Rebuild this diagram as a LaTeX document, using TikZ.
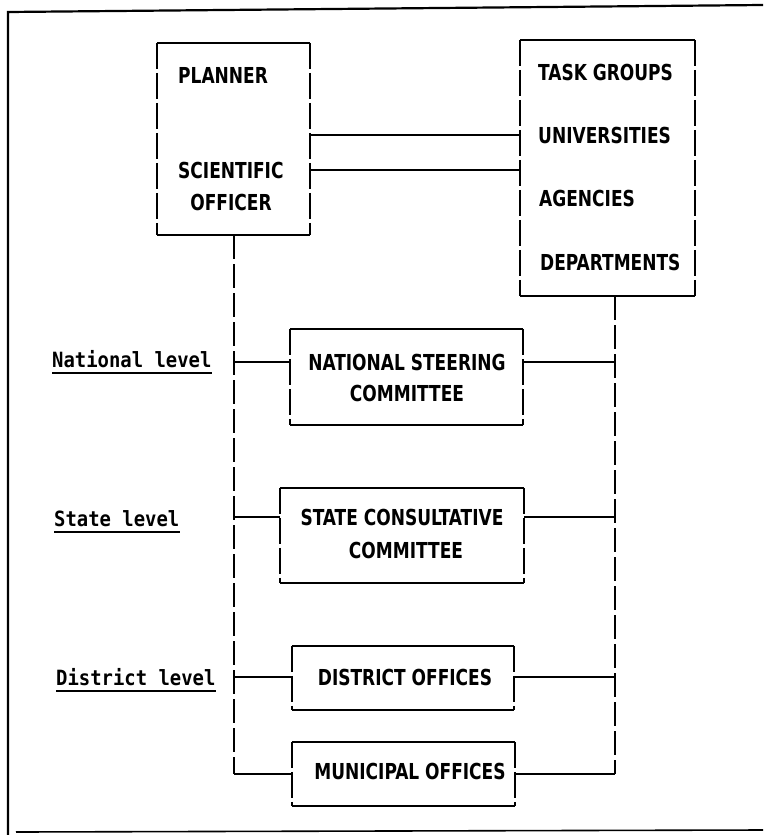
\documentclass[tikz,border=0pt]{standalone}
\usepackage{fontspec}
\newfontfamily\capfont[FakeStretch=0.86]{DejaVu Sans Condensed}
\newfontfamily\lvlfont[FakeStretch=0.9]{DejaVu Sans Mono}
\begin{document}
\begin{tikzpicture}[x=1pt,y=-1pt,
  boxn/.style={draw=none,inner sep=0pt,minimum width=#1},
  txt/.style={font=\capfont\bfseries\fontsize{22}{24}\selectfont,inner sep=0pt},
  lvl/.style={font=\lvlfont\bfseries\fontsize{21}{22}\selectfont,inner sep=0pt,anchor=base west},
  edge/.style={line width=2.2pt},
  dside/.style={line width=2.2pt,dash pattern=on 26pt off 4pt},
  conn/.style={line width=2pt},
  spine/.style={line width=2pt,dash pattern=on 24pt off 5pt},
  uline/.style={line width=2.6pt}]
\useasboundingbox (0,0) rectangle (763,835);
% frame
\draw[line width=2.2pt] (8,835) -- (8,12) -- (763,5);
\draw[line width=1.6pt] (16,832) -- (763,830);
% boxes
\node[boxn=153pt,minimum height=192pt] (pl) at (233.5,139) {};
\node[boxn=175pt,minimum height=256pt] (tg) at (607.5,168) {};
\node[boxn=233pt,minimum height=96pt] (ns) at (406.5,377) {};
\node[boxn=244pt,minimum height=95pt] (sc) at (402,535.5) {};
\node[boxn=222pt,minimum height=64pt] (do) at (403,678) {};
\node[boxn=223pt,minimum height=64pt] (mo) at (403.5,774) {};
\foreach \b in {pl,tg,ns,sc,do,mo}{
  \draw[edge] (\b.north west) -- (\b.north east) (\b.south west) -- (\b.south east);
  \draw[dside] (\b.north west) -- (\b.south west) (\b.north east) -- (\b.south east);
}
% texts
\node[txt,anchor=west] (t1) at (178,75) {PLANNER};
\node[txt,anchor=west] (t2) at (178,170) {SCIENTIFIC};
\node[txt] (t3) at (231,202) {OFFICER};
\node[txt,anchor=west] (t4) at (538,72) {TASK GROUPS};
\node[txt,anchor=west] (t5) at (538,135) {UNIVERSITIES};
\node[txt,anchor=west] (t6) at (539,198) {AGENCIES};
\node[txt,anchor=west] (t7) at (540,262) {DEPARTMENTS};
\node[txt] (t8) at (407,362) {NATIONAL STEERING};
\node[txt] (t9) at (407,393) {COMMITTEE};
\node[txt] (t10) at (402,517) {STATE CONSULTATIVE};
\node[txt] (t11) at (406,550) {COMMITTEE};
\node[txt] (t12) at (405,677) {DISTRICT OFFICES};
\node[txt] (t13) at (410,771) {MUNICIPAL OFFICES};
% level labels
\node[lvl] (l1) at (52,367) {National level};
\node[lvl] (l2) at (54,526) {State level};
\node[lvl] (l3) at (56,685) {District level};
\foreach \l in {l1,l2,l3}{
  \draw[uline] ([yshift=-6pt]\l.base west) -- ([yshift=-6pt]\l.base east);
}
% connectors top
\draw[conn] (pl.east |- t5.center) -- (tg.west |- t5.center);
\draw[conn] (pl.east |- t2.center) -- (tg.west |- t2.center);
% spines
\coordinate (lt) at (pl.south);
\coordinate (lb) at (pl.south |- mo.west);
\coordinate (rt) at (615,296);
\coordinate (rb) at (rt |- mo.east);
\draw[spine] (lt) -- (lb);
\draw[spine] (rt) -- (rb);
\draw[conn] (lb) -- (mo.west);
\draw[conn] (mo.east) -- (rb);
% level connectors
\draw[conn] (lt |- t8.center) -- (ns.west |- t8.center);
\draw[conn] (ns.east |- t8.center) -- (rt |- t8.center);
\draw[conn] (lt |- t10.center) -- (sc.west |- t10.center);
\draw[conn] (sc.east |- t10.center) -- (rt |- t10.center);
\draw[conn] (lt |- t12.center) -- (do.west |- t12.center);
\draw[conn] (do.east |- t12.center) -- (rt |- t12.center);
\end{tikzpicture}
\end{document}
